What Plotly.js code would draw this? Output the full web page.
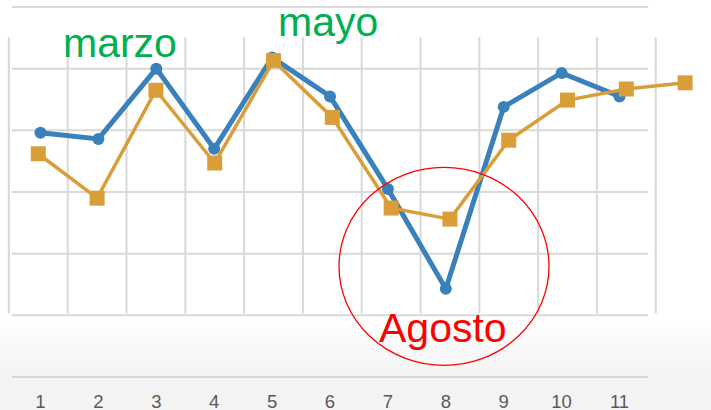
<!DOCTYPE html>
<html>
<head>
<meta charset="utf-8">
<script src="https://cdn.plot.ly/plotly-3.0.1.min.js"></script>
<style>
html,body{margin:0;padding:0;}
body{width:711px;height:410px;overflow:hidden;
background:linear-gradient(to bottom,#ffffff 0px,#ffffff 324px,#f8f8f8 350px,#f3f3f3 385px,#f4f4f4 410px);}
#chart{width:711px;height:410px;}
</style>
</head>
<body>
<div id="chart"></div>
<script>
// Data
const months = [1,2,3,4,5,6,7,8,9,10,11,12];
const tickLabels = ["1","2","3","4","5","6","7","8","9","10","11"];
const seriesBlue = [3.96,3.86,5.0,3.70,5.18,4.55,3.05,1.43,4.38,4.93,4.55,null];
const seriesOrange = [3.62,2.90,4.65,3.47,5.13,4.21,2.74,2.56,3.84,4.49,4.67,4.77];
const hGridVals = [0,1,2,3,4,5,6];
const vGridVals = [0.5,1.5,2.5,3.5,4.5,5.5,6.5,7.5,8.5,9.5,10.5,11.5];

const gridColor = "#d9d9d9";
const shapes = [];
hGridVals.forEach(v => shapes.push({type:"line",xref:"x2",yref:"y",x0:0.55,x1:11.37,y0:v,y1:v,
  line:{color:gridColor,width:2},layer:"below"}));
vGridVals.forEach(v => shapes.push({type:"line",xref:"x2",yref:"y",x0:v,x1:v,y0:1.03,y1:5.51,
  line:{color:gridColor,width:2},layer:"below"}));
// red circle around August
shapes.push({type:"circle",xref:"x2",yref:"y",x0:6.114,x1:9.685,y0:0.19,y1:3.40,
  line:{color:"#ff0000",width:1.3},layer:"above"});

const traces = [
  {x:months,y:seriesBlue,xaxis:"x",yaxis:"y",type:"scatter",mode:"lines+markers",
   line:{color:"#3a80bb",width:5},marker:{symbol:"circle",size:12,color:"#3a80bb"},
   cliponaxis:false,hoverinfo:"none"},
  {x:months,y:seriesOrange,xaxis:"x2",yaxis:"y",type:"scatter",mode:"lines+markers",
   line:{color:"#da9e38",width:3.5},marker:{symbol:"square",size:15,color:"#da9e38"},
   cliponaxis:false,hoverinfo:"none"}
];

const annFont = {family:"Liberation Sans, Arial, sans-serif",size:41};
const layout = {
  width:711,height:410,
  margin:{l:0,r:0,t:0,b:22},
  paper_bgcolor:"rgba(0,0,0,0)",plot_bgcolor:"rgba(0,0,0,0)",
  showlegend:false,
  xaxis:{range:[0.3005,12.580],showgrid:false,zeroline:false,showline:false,
    tickvals:months.slice(0,11),ticktext:tickLabels,ticks:"",
    tickfont:{family:"Liberation Sans, Arial, sans-serif",size:18.5,color:"#595959"},fixedrange:true},
  xaxis2:{range:[0.3486,12.440],overlaying:"x",showgrid:false,zeroline:false,showline:false,
    showticklabels:false,fixedrange:true},
  yaxis:{range:[-0.178,6.113],showgrid:false,zeroline:false,showline:false,showticklabels:false,fixedrange:true},
  shapes:shapes,
  annotations:[
    {x:2.389,y:5.42,xref:"x2",yref:"y",text:"marzo",showarrow:false,font:Object.assign({color:"#00b050"},annFont)},
    {x:5.927,y:5.75,xref:"x2",yref:"y",text:"mayo",showarrow:false,font:Object.assign({color:"#00b050"},annFont)},
    {x:7.883,y:0.80,xref:"x2",yref:"y",text:"Agosto",showarrow:false,font:Object.assign({color:"#ff0000"},annFont)}
  ]
};
Plotly.newPlot("chart",traces,layout,{staticPlot:true,displayModeBar:false});
</script>
</body>
</html>
